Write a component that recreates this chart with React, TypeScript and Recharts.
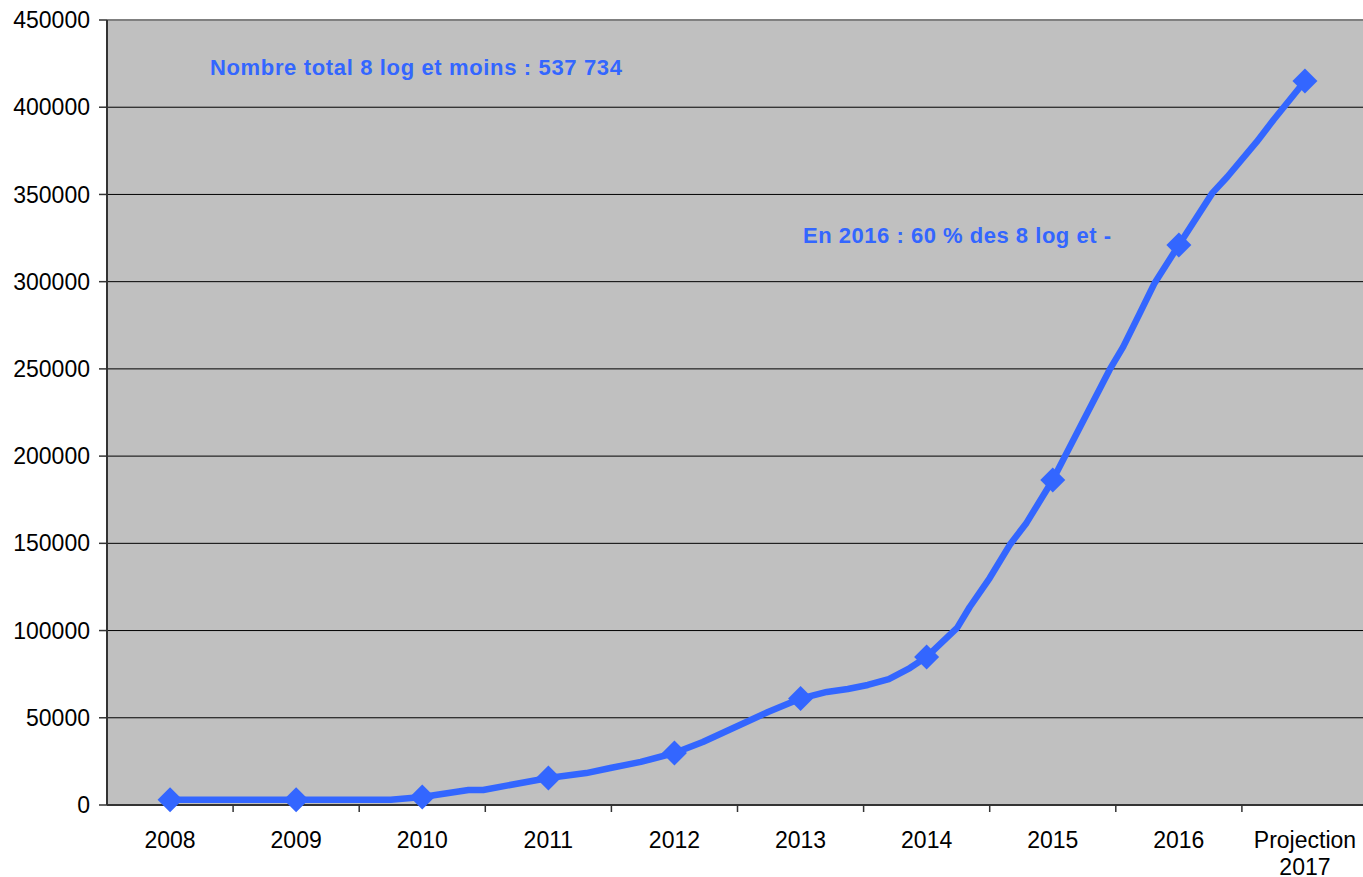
import React from 'react';
import { LineChart, Line, XAxis, YAxis, CartesianGrid, ReferenceLine, Customized } from 'recharts';

// yearly values (markers, placed mid-category) and readings taken between them
const years = ['2008', '2009', '2010', '2011', '2012', '2013', '2014', '2015', '2016', 'Projection 2017'];
const yearValues = [3000, 3000, 4600, 15500, 29800, 61000, 84900, 186300, 321000, 415000];
// months counted from the start of the 2008 category
const readingMonths = [27, 34.4, 35.8, 45.6, 47.9, 50.8, 56.7, 62.9, 68.5, 70.5, 72.4, 74.4, 76.4, 80.9, 82.1, 84, 85.9, 87.5, 92.6, 95.4, 96.7, 98.3, 99.7, 105.2, 106.6, 109.4, 111];
const readingValues = [3000, 8600, 8600, 18300, 21200, 24700, 36100, 53300, 64800, 66500, 68800, 72200, 78500, 101500, 113500, 130100, 149000, 161700, 216700, 249400, 262600, 282100, 299300, 350900, 360000, 380100, 392700];
const yTicks = [0, 50000, 100000, 150000, 200000, 250000, 300000, 350000, 400000, 450000];
const gridValues = yTicks.slice(1, -1);
const annotations = [
  'Nombre total 8 log et moins : 537 734',
  'En 2016 : 60 % des 8 log et -',
];

const data = [
  ...yearValues.map((v, i) => ({ x: i + 0.5, v, marker: true })),
  ...readingValues.map((v, i) => ({ x: readingMonths[i] / 12, v, marker: false })),
].sort((a, b) => a.x - b.x);

const xTicks: number[] = [];
for (let i = 0; i <= years.length * 2; i++) xTicks.push(i / 2);

const BLUE = '#3366FF';
const FONT = '"Liberation Sans", Arial, sans-serif';

const XTick = (props: any) => {
  const { x, y, payload } = props;
  const v = payload.value as number;
  if (Number.isInteger(v)) {
    if (v === 0) return <g />;
    return <line x1={x} x2={x} y1={y} y2={y + 7} stroke="#333" strokeWidth={1.5} />;
  }
  const lines = years[Math.floor(v)].split(' ');
  return (
    <text x={x} y={y + 43} textAnchor="middle" fontFamily={FONT} fontSize={23} fill="#000">
      {lines.map((l, i) => (
        <tspan key={i} x={x} dy={i === 0 ? 0 : 27}>{l}</tspan>
      ))}
    </text>
  );
};

const Diamond = (props: any) => {
  const { cx, cy, payload, index } = props;
  if (!payload.marker || cx == null) return <g key={index} />;
  const r = 12.5;
  return (
    <path
      key={index}
      d={`M${cx},${cy - r} L${cx + r},${cy} L${cx},${cy + r} L${cx - r},${cy} Z`}
      fill={BLUE}
    />
  );
};

const Notes = () => (
  <g fontFamily={FONT} fontWeight="bold" fontSize={22} fill={BLUE}>
    <text x={210} y={75} textLength={412} lengthAdjust="spacing">{annotations[0]}</text>
    <text x={803} y={243} textLength={308} lengthAdjust="spacing">{annotations[1]}</text>
  </g>
);

export default function App() {
  return (
    <div style={{ position: 'fixed', left: 0, top: 0, width: 1363, height: 877, overflow: 'hidden', background: '#fff' }}>
      <LineChart width={1368} height={877} data={data} margin={{ top: 20, right: 0, left: 6, bottom: 0 }}>
        <CartesianGrid horizontal={false} vertical={false} fill="#C0C0C0" />
        {gridValues.map((g) => (
          <ReferenceLine key={g} y={g} stroke="#000" strokeWidth={1} />
        ))}
        <ReferenceLine y={450000} stroke="#808080" strokeWidth={2} />
        <XAxis
          dataKey="x"
          type="number"
          domain={[0, years.length]}
          ticks={xTicks}
          interval={0}
          tick={<XTick />}
          tickLine={false}
          tickSize={0}
          tickMargin={0}
          height={72}
          axisLine={{ stroke: '#333', strokeWidth: 2 }}
        />
        <YAxis
          domain={[0, 450000]}
          ticks={yTicks}
          interval={0}
          width={101}
          tickSize={8}
          tickMargin={9}
          tickLine={{ stroke: '#333', strokeWidth: 1.5 }}
          axisLine={{ stroke: '#333', strokeWidth: 2 }}
          tick={{ fontFamily: FONT, fontSize: 23, fill: '#000' }}
        />
        <Line
          type="linear"
          dataKey="v"
          stroke={BLUE}
          strokeWidth={6.5}
          strokeLinejoin="round"
          dot={<Diamond />}
          activeDot={false}
          isAnimationActive={false}
        />
        <Customized component={Notes} />
      </LineChart>
    </div>
  );
}
